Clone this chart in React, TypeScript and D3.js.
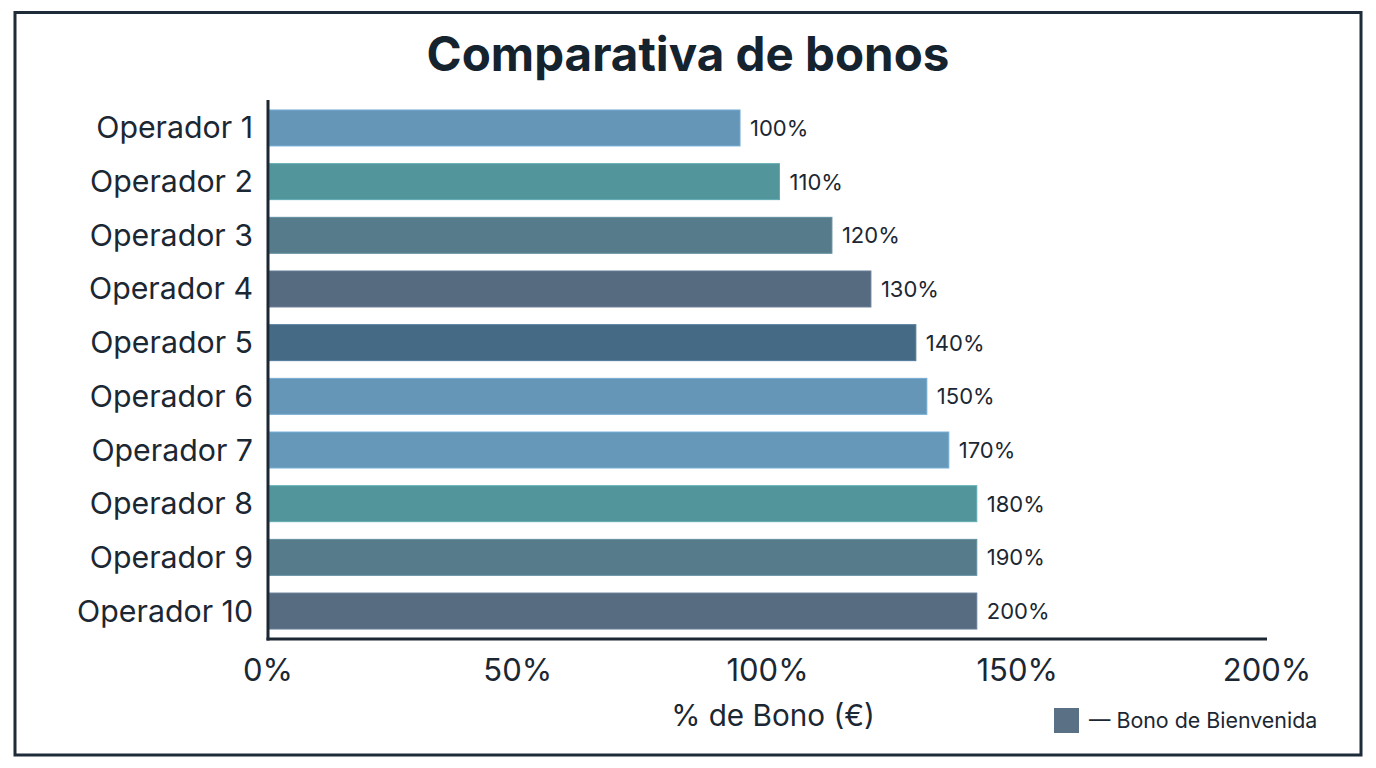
import { useEffect, useRef } from 'react'
import * as d3 from 'd3'

const OPERATORS = [
  'Operador 1',
  'Operador 2',
  'Operador 3',
  'Operador 4',
  'Operador 5',
  'Operador 6',
  'Operador 7',
  'Operador 8',
  'Operador 9',
  'Operador 10',
]

// bar lengths as drawn (they don't match their own labels in the original)
const BAR_VALUES = [94.5, 102.4, 112.9, 120.7, 129.7, 131.9, 136.3, 141.9, 141.9, 141.9]
const VALUE_LABELS = ['100%', '110%', '120%', '130%', '140%', '150%', '170%', '180%', '190%', '200%']
const BAR_COLORS = [
  '#6596b8',
  '#52959a',
  '#567c8b',
  '#576b80',
  '#456a86',
  '#6596b8',
  '#6598b9',
  '#52969b',
  '#567c8b',
  '#586c81',
]
const X_TICKS = [0, 50, 100, 150, 200]

const WIDTH = 1376
const HEIGHT = 768
const FONT = 'Inter, "Noto Sans", sans-serif'
const INK = '#1b2733'

export default function App() {
  const svgRef = useRef<SVGSVGElement | null>(null)

  useEffect(() => {
    if (!svgRef.current) {
      return
    }

    const svg = d3.select(svgRef.current)
    svg.selectAll('*').remove()

    const plot = { left: 268, right: 1267, top: 100, bottom: 639 }

    const x = d3.scaleLinear().domain([0, 200]).range([plot.left, plot.right])
    const y = d3
      .scaleBand<string>()
      .domain(OPERATORS)
      .range([plot.top, plot.bottom])
      .paddingInner(0.33)
      .paddingOuter(0.186)

    svg.append('rect').attr('width', WIDTH).attr('height', HEIGHT).attr('fill', '#ffffff')

    svg
      .append('rect')
      .attr('x', 15)
      .attr('y', 12.5)
      .attr('width', 1346)
      .attr('height', 742.5)
      .attr('fill', 'none')
      .attr('stroke', '#1e2b38')
      .attr('stroke-width', 3)

    svg
      .append('text')
      .attr('x', 688)
      .attr('y', 71)
      .attr('text-anchor', 'middle')
      .attr('font-family', FONT)
      .attr('font-size', 47.5)
      .attr('font-weight', 700)
      .attr('fill', '#15232f')
      .text('Comparativa de bonos')

    svg
      .append('g')
      .selectAll('rect.bar')
      .data(OPERATORS)
      .enter()
      .append('rect')
      .attr('class', 'bar')
      .attr('x', x(0) + 1.5)
      .attr('y', (d: string) => y(d) ?? 0)
      .attr('width', (_: string, i: number) => x(BAR_VALUES[i]) - x(0) - 1.5)
      .attr('height', y.bandwidth())
      .attr('fill', (_: string, i: number) => BAR_COLORS[i])
      .attr('stroke', (_: string, i: number) => d3.color(BAR_COLORS[i])?.brighter(0.4).formatHex() ?? '#fff')
      .attr('stroke-width', 1)

    svg
      .append('g')
      .selectAll('text.value')
      .data(OPERATORS)
      .enter()
      .append('text')
      .attr('class', 'value')
      .attr('x', (_: string, i: number) => x(BAR_VALUES[i]) + 10)
      .attr('y', (d: string) => (y(d) ?? 0) + y.bandwidth() / 2 + 8)
      .attr('font-family', FONT)
      .attr('font-size', 22)
      .attr('fill', INK)
      .text((_: string, i: number) => VALUE_LABELS[i])

    svg
      .append('g')
      .selectAll('text.cat')
      .data(OPERATORS)
      .enter()
      .append('text')
      .attr('class', 'cat')
      .attr('x', 253)
      .attr('y', (d: string) => (y(d) ?? 0) + y.bandwidth() / 2 + 10.5)
      .attr('text-anchor', 'end')
      .attr('font-family', FONT)
      .attr('font-size', 30.3)
      .attr('fill', INK)
      .text((d: string) => d)

    // axis lines
    svg
      .append('line')
      .attr('x1', plot.left)
      .attr('x2', plot.left)
      .attr('y1', plot.top)
      .attr('y2', plot.bottom + 1.5)
      .attr('stroke', INK)
      .attr('stroke-width', 3)

    svg
      .append('line')
      .attr('x1', plot.left - 1.5)
      .attr('x2', plot.right)
      .attr('y1', plot.bottom)
      .attr('y2', plot.bottom)
      .attr('stroke', INK)
      .attr('stroke-width', 3)

    svg
      .append('g')
      .selectAll('text.tick')
      .data(X_TICKS)
      .enter()
      .append('text')
      .attr('class', 'tick')
      .attr('x', (d: number) => x(d))
      .attr('y', 681)
      .attr('text-anchor', 'middle')
      .attr('font-family', FONT)
      .attr('font-size', 31)
      .attr('fill', INK)
      .text((d: number) => `${d}%`)

    svg
      .append('text')
      .attr('x', 773)
      .attr('y', 726)
      .attr('text-anchor', 'middle')
      .attr('font-family', FONT)
      .attr('font-size', 29.7)
      .attr('fill', INK)
      .text('% de Bono (€)')

    const legend = svg.append('g').attr('transform', 'translate(1054, 708)')
    legend.append('rect').attr('width', 25).attr('height', 25).attr('fill', '#5a7085')
    legend
      .append('text')
      .attr('x', 35)
      .attr('y', 19.5)
      .attr('font-family', FONT)
      .attr('font-size', 21.4)
      .attr('fill', INK)
      .text('— Bono de Bienvenida')
  }, [])

  return (
    <svg
      ref={svgRef}
      width={WIDTH}
      height={HEIGHT}
      style={{ position: 'absolute', left: 0, top: 0 }}
      role="img"
      aria-label="Comparativa de bonos"
    />
  )
}
